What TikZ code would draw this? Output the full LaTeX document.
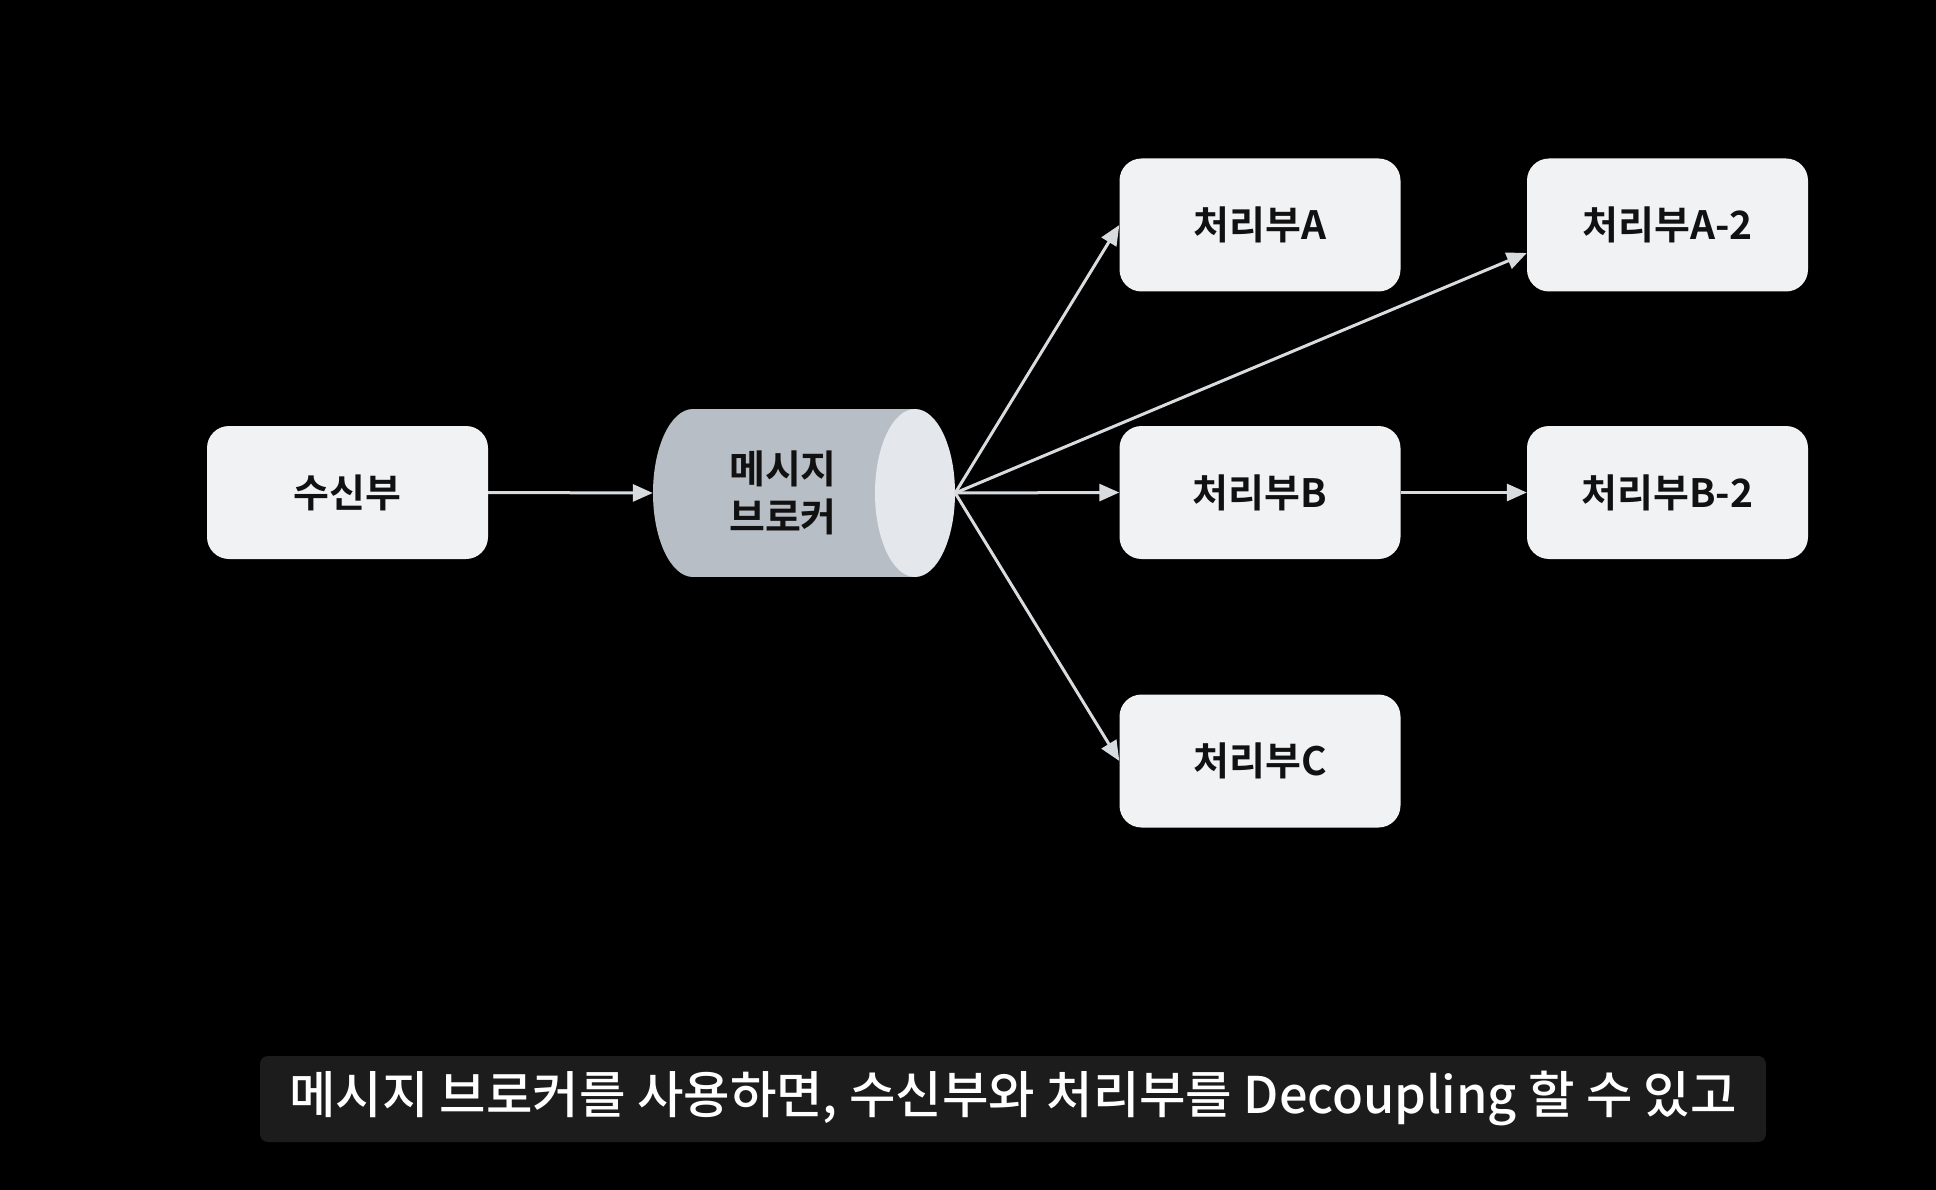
\documentclass[tikz,border=0pt]{standalone}
\usepackage{fontspec}
\newfontfamily\kr{Noto Sans CJK KR}[BoldFont={* Bold}]
\newfontfamily\krmed{Noto Sans CJK KR Medium}
\usetikzlibrary{arrows.meta,calc}
\definecolor{boxfill}{HTML}{F1F2F4}
\definecolor{txt}{HTML}{111111}
\definecolor{arr}{HTML}{D9DCDF}
\definecolor{cylbody}{HTML}{B8BEC6}
\definecolor{cylend}{HTML}{E4E7EB}
\definecolor{subbg}{HTML}{1C1C1C}
\begin{document}
\begin{tikzpicture}[x=1pt,y=-1pt,
  procbox/.style={draw=none,fill=boxfill,rounded corners=22pt,minimum width=281pt,minimum height=133pt,inner sep=0pt,text=txt,font=\kr\bfseries\fontsize{39}{44}\selectfont},
  conn/.style={draw=arr,line width=3pt,-{Triangle[length=20pt,width=17pt]}}]
\fill[black] (0,0) rectangle (1936,1190);
\useasboundingbox (0,0) rectangle (1936,1190);
% nodes
\node[procbox] (recv) at (347.5,492.5) {수신부};
\node[procbox] (pa) at (1260,225) {처리부A};
\node[procbox] (pa2) at (1667.5,225) {처리부A-2};
\node[procbox] (pb) at (1260,492.5) {처리부B};
\node[procbox] (pb2) at (1667.5,492.5) {처리부B-2};
\node[procbox] (pc) at (1260,761) {처리부C};
% cylinder
\fill[cylbody] (693,493) ellipse[x radius=40,y radius=84];
\fill[cylbody] (693,409) rectangle (915,577);
\fill[cylend] (915,493) ellipse[x radius=40,y radius=84];
\node[minimum width=302pt,minimum height=168pt,inner sep=0pt] (mb) at (804,493) {};
\node[align=center,text=txt,font=\kr\bfseries\fontsize{39}{48}\selectfont] (mblabel) at (783,493) {메시지\\브로커};
% connectors
\draw[conn] (recv.east) -- (mb.west);
\draw[conn] (mb.east) -- (pa.west);
\draw[conn] (mb.east) -- ($(pa2.west)+(0,28)$);
\draw[conn] (mb.east) -- (pb.west);
\draw[conn] (mb.east) -- (pc.west);
\draw[conn] (pb.east) -- (pb2.west);
% subtitle
\node[fill=subbg,rounded corners=8pt,minimum width=1506pt,minimum height=86pt,inner sep=0pt,text=white,font=\krmed\fontsize{50.5}{56}\selectfont] (sub) at (1013,1099) {메시지 브로커를 사용하면, 수신부와 처리부를 Decoupling 할 수 있고};
\end{tikzpicture}
\end{document}
